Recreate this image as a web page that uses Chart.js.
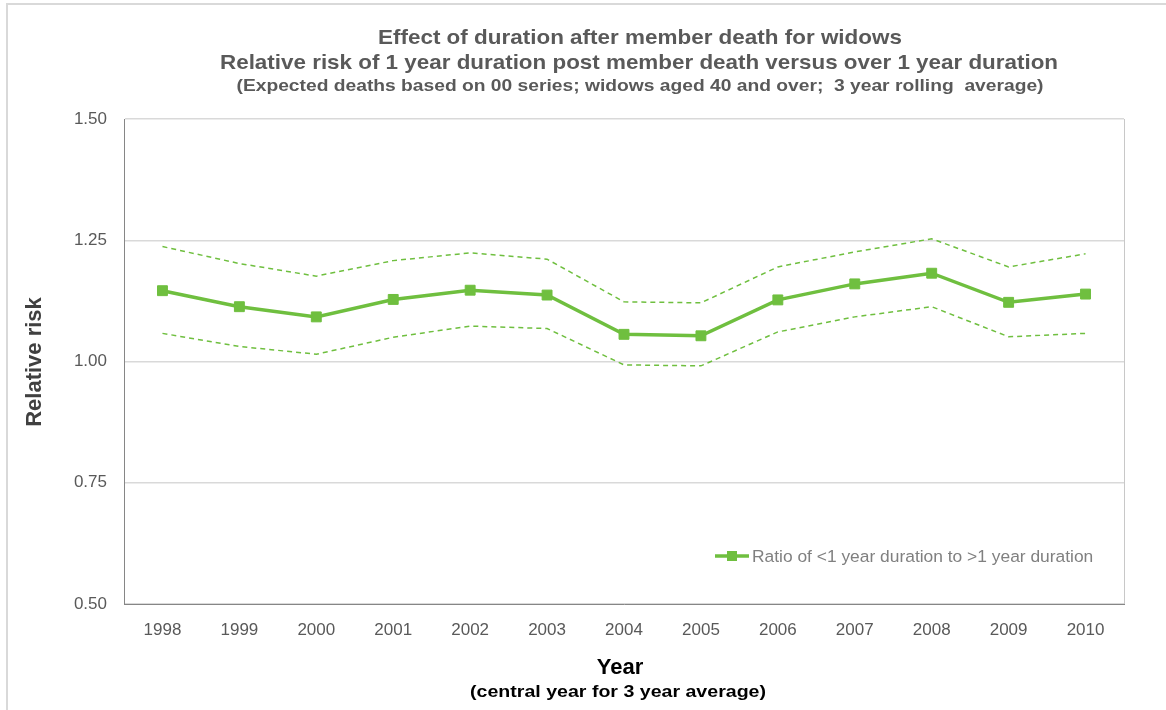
<!DOCTYPE html>
<html>
<head>
<meta charset="utf-8">
<title>Relative risk by duration</title>
<script src="https://cdn.jsdelivr.net/npm/chart.js@4.4.1/dist/chart.umd.min.js"></script>
<style>
  html, body { margin: 0; padding: 0; background: #ffffff; }
  #wrap { position: relative; width: 1166px; height: 710px; }
</style>
</head>
<body>
<div id="wrap"><canvas id="chart" width="1166" height="710"></canvas></div>
<script>
// central year of each 3 year window
const years = ['1998', '1999', '2000', '2001', '2002', '2003', '2004', '2005', '2006', '2007', '2008', '2009', '2010'];

// ratio of <1 year duration to >1 year duration
const ratio = [1.146, 1.113, 1.092, 1.128, 1.147, 1.137, 1.056, 1.053, 1.127, 1.160, 1.182, 1.122, 1.139];

// confidence band (dashed)
const upperBand = [1.237, 1.202, 1.176, 1.208, 1.224, 1.211, 1.123, 1.121, 1.195, 1.226, 1.253, 1.195, 1.222];
const lowerBand = [1.058, 1.031, 1.015, 1.050, 1.073, 1.068, 0.993, 0.991, 1.061, 1.092, 1.113, 1.051, 1.058];

const yTicks = [0.50, 0.75, 1.00, 1.25, 1.50];

const titleLines = [
    'Effect of duration after member death for widows',
    'Relative risk of 1 year duration post member death versus over 1 year duration',
    '(Expected deaths based on 00 series; widows aged 40 and over;  3 year rolling  average)'
];
const legendLabel = 'Ratio of <1 year duration to >1 year duration';
const yTitle = 'Relative risk';
const xTitle = 'Year';
const xSubTitle = '(central year for 3 year average)';

const FONT = '"Liberation Sans", Arial, Helvetica, sans-serif';
const GREEN = '#6fbf3f';

// draws a centred line of text squeezed/stretched to a given width
function fitText(ctx, text, cx, cy, width) {
    const w = ctx.measureText(text).width;
    ctx.save();
    ctx.translate(cx, cy);
    ctx.scale(width / w, 1);
    ctx.fillText(text, 0, 0);
    ctx.restore();
}

// Outer frame, titles, axis titles and the legend inside the plot
const decorPlugin = {
    id: 'decor',
    beforeDraw(chart) {
        const ctx = chart.ctx;
        ctx.save();
        ctx.strokeStyle = '#d9d9d9';
        ctx.lineWidth = 2;
        ctx.beginPath();
        ctx.moveTo(7, 720);
        ctx.lineTo(7, 4);
        ctx.lineTo(1170, 4);
        ctx.stroke();
        ctx.restore();
    },
    afterDraw(chart) {
        const ctx = chart.ctx;
        const area = chart.chartArea;
        ctx.save();

        // right edge of the plot area
        ctx.strokeStyle = '#c8c8c8';
        ctx.lineWidth = 1;
        ctx.beginPath();
        ctx.moveTo(area.right + 0.5, area.top);
        ctx.lineTo(area.right + 0.5, area.bottom);
        ctx.stroke();

        // titles
        ctx.textAlign = 'center';
        ctx.textBaseline = 'middle';
        ctx.fillStyle = '#595959';
        ctx.font = 'bold 21px ' + FONT;
        fitText(ctx, titleLines[0], 640, 38, 524);
        fitText(ctx, titleLines[1], 639, 63, 838);
        ctx.font = 'bold 16px ' + FONT;
        fitText(ctx, titleLines[2], 640, 87, 807);

        // axis titles
        ctx.fillStyle = '#000000';
        ctx.font = 'bold 22px ' + FONT;
        ctx.fillText(xTitle, 620, 668);
        ctx.font = 'bold 17px ' + FONT;
        fitText(ctx, xSubTitle, 618, 692, 296);

        ctx.save();
        ctx.translate(35, 362);
        ctx.rotate(-Math.PI / 2);
        ctx.fillStyle = '#404040';
        ctx.font = 'bold 22px ' + FONT;
        ctx.fillText(yTitle, 0, 0);
        ctx.restore();

        // legend for the ratio series
        const ds = chart.data.datasets[0];
        const ly = 556;
        ctx.strokeStyle = ds.borderColor;
        ctx.lineWidth = ds.borderWidth;
        ctx.beginPath();
        ctx.moveTo(715, ly);
        ctx.lineTo(749, ly);
        ctx.stroke();
        ctx.fillStyle = ds.backgroundColor;
        ctx.fillRect(727, ly - 5, 10, 10);
        ctx.fillStyle = '#808080';
        ctx.font = '17.4px ' + FONT;
        ctx.textAlign = 'left';
        ctx.fillText(legendLabel, 752, ly + 1);

        ctx.restore();
    }
};

const ctx = document.getElementById('chart').getContext('2d');
const chart = new Chart(ctx, {
    type: 'line',
    data: {
        labels: years,
        datasets: [
            {
                label: legendLabel,
                data: ratio,
                borderColor: GREEN,
                backgroundColor: GREEN,
                borderWidth: 3.5,
                pointStyle: 'rect',
                pointRadius: 7,
                pointBorderWidth: 1,
                pointHoverRadius: 7,
                tension: 0,
                order: 0
            },
            {
                label: 'upper',
                data: upperBand,
                borderColor: GREEN,
                borderWidth: 1.5,
                borderDash: [5, 4],
                pointRadius: 0,
                tension: 0,
                order: 1
            },
            {
                label: 'lower',
                data: lowerBand,
                borderColor: GREEN,
                borderWidth: 1.5,
                borderDash: [5, 4],
                pointRadius: 0,
                tension: 0,
                order: 2
            }
        ]
    },
    options: {
        responsive: false,
        devicePixelRatio: 1,
        animation: false,
        layout: {
            padding: { top: 119, right: 42, left: 0, bottom: 0 }
        },
        plugins: {
            legend: { display: false },
            title: { display: false },
            tooltip: { enabled: false }
        },
        scales: {
            x: {
                type: 'category',
                offset: true,
                grid: { display: false, drawTicks: false },
                border: { display: true, color: '#868686', width: 1 },
                ticks: {
                    color: '#595959',
                    font: { family: FONT, size: 17 },
                    padding: 16,
                    maxRotation: 0,
                    autoSkip: false
                },
                afterFit(scale) { scale.height = 106; }
            },
            y: {
                min: 0.5,
                max: 1.5,
                afterBuildTicks(scale) {
                    scale.ticks = yTicks.map(v => ({ value: v }));
                },
                grid: { color: '#d9d9d9', lineWidth: 1.5, drawTicks: false },
                border: { display: true, color: '#868686', width: 1 },
                ticks: {
                    color: '#595959',
                    font: { family: FONT, size: 17 },
                    padding: 17,
                    callback: v => Number(v).toFixed(2)
                },
                afterFit(scale) { scale.width = 124; }
            }
        }
    },
    plugins: [decorPlugin]
});
</script>
</body>
</html>
